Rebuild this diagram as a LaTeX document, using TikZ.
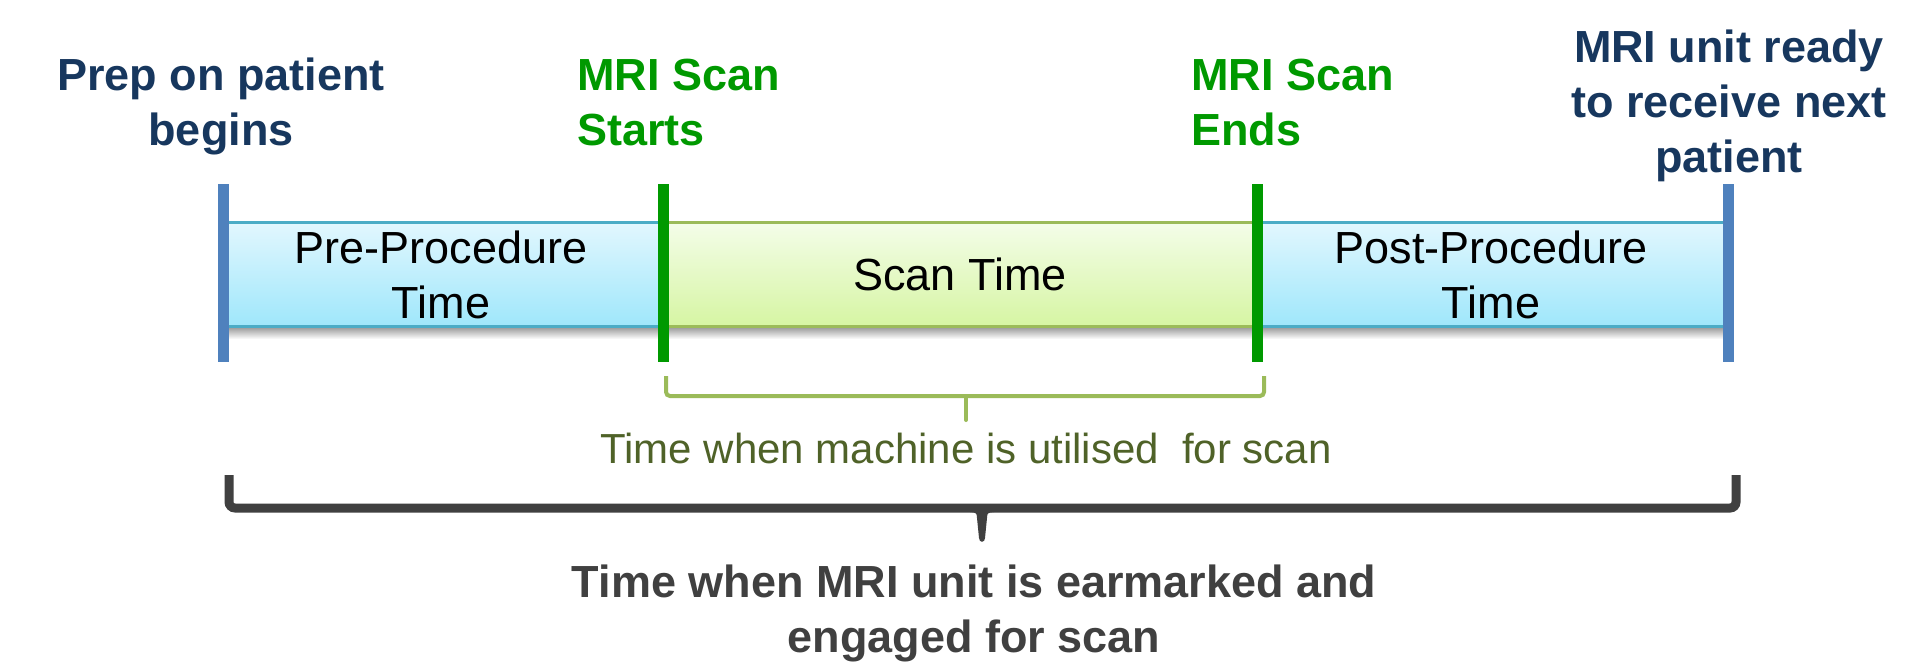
\documentclass[tikz,border=0pt]{standalone}
\usepackage{fontspec}
\setmainfont{Liberation Sans}
\begin{document}
\begin{tikzpicture}[x=1pt,y=-1pt,
  navy/.style={text=navyc,font=\fontsize{45}{55}\selectfont\bfseries,inner sep=0pt,align=center},
  greenlab/.style={text=greenc,font=\fontsize{45}{55}\selectfont\bfseries,inner sep=0pt,align=left},
  bartext/.style={text=black,font=\fontsize{45}{55}\selectfont,inner sep=0pt,align=center},
  vline/.style={line width=11pt},
]
\definecolor{navyc}{HTML}{17375E}
\definecolor{greenc}{HTML}{009900}
\definecolor{bluel}{HTML}{4F81BD}
\definecolor{cyanb}{HTML}{4BACC6}
\definecolor{limeb}{HTML}{9BBB59}
\definecolor{olivec}{HTML}{4F6228}
\definecolor{darkc}{HTML}{404040}
\definecolor{cyantop}{HTML}{E2F7FE}
\definecolor{cyanbot}{HTML}{9FE7FB}
\definecolor{limetop}{HTML}{F4FDE9}
\definecolor{limebot}{HTML}{D6F5A3}
\useasboundingbox (0,0) rectangle (1926,664);
\fill[white] (0,0) rectangle (1926,664);

% coordinates
\coordinate (tA) at (223,184); \coordinate (bA) at (223,362);
\coordinate (tB) at (663,184); \coordinate (bB) at (663,362);
\coordinate (tC) at (1257,184); \coordinate (bC) at (1257,362);
\coordinate (tD) at (1728,184); \coordinate (bD) at (1728,362);

% shadow
\shade[top color=black!40, bottom color=white] (223,327) rectangle (1728,339);

% bars
\shade[top color=cyantop, bottom color=cyanbot] (223,222) rectangle (663,326);
\shade[top color=limetop, bottom color=limebot] (663,222) rectangle (1257,326);
\shade[top color=cyantop, bottom color=cyanbot] (1257,222) rectangle (1728,326);
\draw[cyanb, line width=3pt] (223,222) -- (663,222) (223,326) -- (663,326);
\draw[limeb, line width=3pt] (663,222) -- (1257,222) (663,326) -- (1257,326);
\draw[cyanb, line width=3pt] (1257,222) -- (1728,222) (1257,326) -- (1728,326);

% vertical markers
\draw[vline, bluel] (tA) -- (bA);
\draw[vline, greenc] (tB) -- (bB);
\draw[vline, greenc] (tC) -- (bC);
\draw[vline, bluel] (tD) -- (bD);

% bar texts
\node[bartext, anchor=base] (pre) at (441,318) {Pre-Procedure\\Time};
\node[bartext, anchor=base] (scan) at (960,290) {Scan Time};
\node[bartext, anchor=base] (post) at (1491,318) {Post-Procedure\\Time};

% top labels
\node[navy, anchor=base] (prep) at (221,145) {Prep on patient\\begins};
\node[greenlab, anchor=base west] (start) at (577,145) {MRI Scan\\Starts};
\node[greenlab, anchor=base west] (ends) at (1191,145) {MRI Scan\\Ends};
\node[navy, anchor=base] (ready) at (1729,172) {MRI unit ready\\to receive next\\patient};

% green brace
\coordinate (g1) at (666,376); \coordinate (g2) at (1264,376);
\coordinate (gm) at (966,396); \coordinate (gt) at (966,420);
\draw[limeb, line width=4pt, rounded corners=4pt] (g1) -- (666,396) -- (1264,396) -- (g2);
\draw[limeb, line width=4pt, line cap=round] (gm) -- (gt);
\node[text=olivec, font=\fontsize{42}{50}\selectfont, inner sep=0pt, anchor=base] (util) at (966,463) {Time when machine is utilised\ \ for scan};

% dark brace
\coordinate (d1) at (229,475); \coordinate (d2) at (1736,475);
\coordinate (dm) at (982,508); \coordinate (dt) at (982,541);
\draw[darkc, line width=9pt, rounded corners=6pt] (d1) -- (229,508) -- (1736,508) -- (d2);
\fill[darkc] (976,508) -- (988,508) -- (985,538) .. controls (985,543) and (979,543) .. (979,538) -- cycle;
\fill[darkc] (970,512) .. controls (976,512) and (978,514) .. (978,520) -- (986,520) .. controls (986,514) and (988,512) .. (994,512) -- cycle;
\node[text=darkc, font=\fontsize{45}{55}\selectfont\bfseries, inner sep=0pt, align=center, anchor=base] (engaged) at (974,652) {Time when MRI unit is earmarked and\\engaged for scan};
\end{tikzpicture}
\end{document}
